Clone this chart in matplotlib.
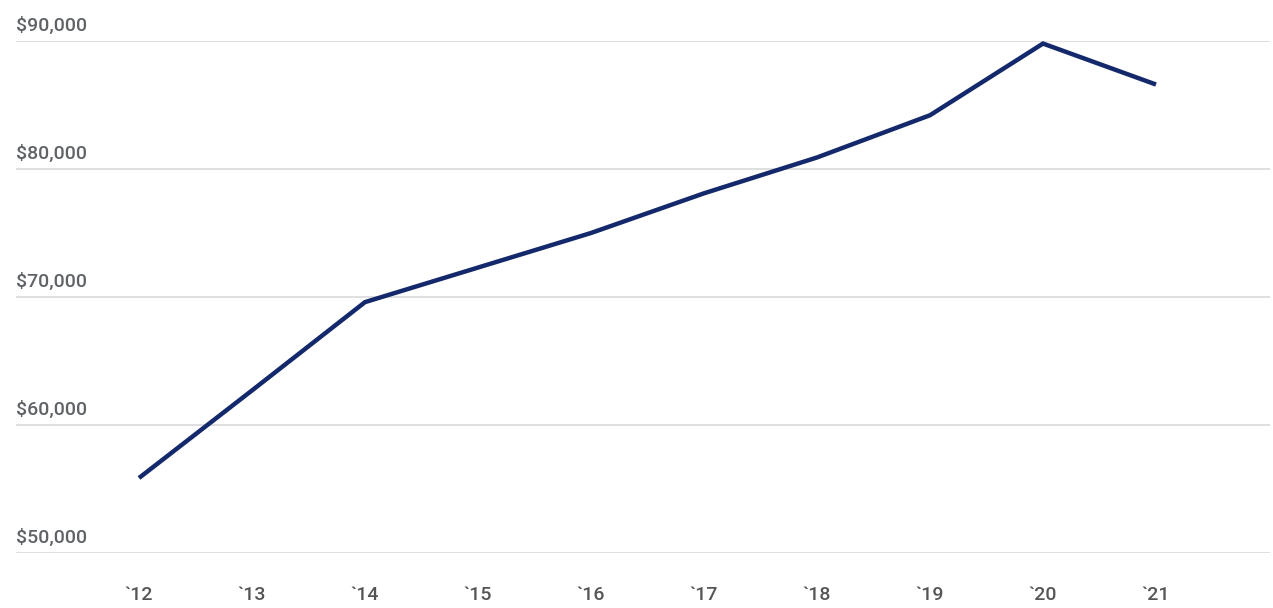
import matplotlib
matplotlib.use("Agg")
import matplotlib.pyplot as plt
import matplotlib.transforms as mtransforms

years = ["`12", "`13", "`14", "`15", "`16", "`17", "`18", "`19", "`20", "`21"]
income = [55860, 62700, 69600, 72300, 75000, 78100, 80900, 84200, 89800, 86600]
y_ticks = [50000, 60000, 70000, 80000, 90000]

plt.rcParams['font.family'] = ['Roboto', 'DejaVu Sans']

W, H = 1273, 608
fig = plt.figure(figsize=(W / 100, H / 100), dpi=100)
# axes box in pixels: left 16, right 1270, top 41, bottom 553
ax = fig.add_axes([16 / W, (H - 553) / H, (1270 - 16) / W, (553 - 41) / H])

x = list(range(len(years)))
ax.plot(x, income, color="#14296b", lw=3.2, clip_on=False,
        solid_joinstyle="miter", solid_capstyle="butt")

ax.set_xlim(-(139 - 16) / 113, 9 + (1270 - 1156) / 113)
ax.set_ylim(50000, 90000)

for v in y_ticks:
    ax.axhline(v, color="#dcdcdc", lw=1.3, zorder=0)

# y labels sit above the gridlines, left aligned
trans = mtransforms.blended_transform_factory(ax.transAxes, ax.transData)
offset = mtransforms.ScaledTranslation(0, 6 / 100, fig.dpi_scale_trans)
for v in y_ticks:
    ax.text(0, v, "${:,}".format(v), transform=trans + offset,
            ha="left", va="bottom", fontsize=14, color="#5f6368",
            fontweight="medium")

ax.set_yticks([])
ax.set_xticks(x)
ax.set_xticklabels(years, fontsize=14, color="#555555", fontweight="medium")
ax.tick_params(axis="x", length=0, pad=24)

for s in ax.spines.values():
    s.set_visible(False)

fig.savefig("out.png", dpi=100, facecolor="white")
